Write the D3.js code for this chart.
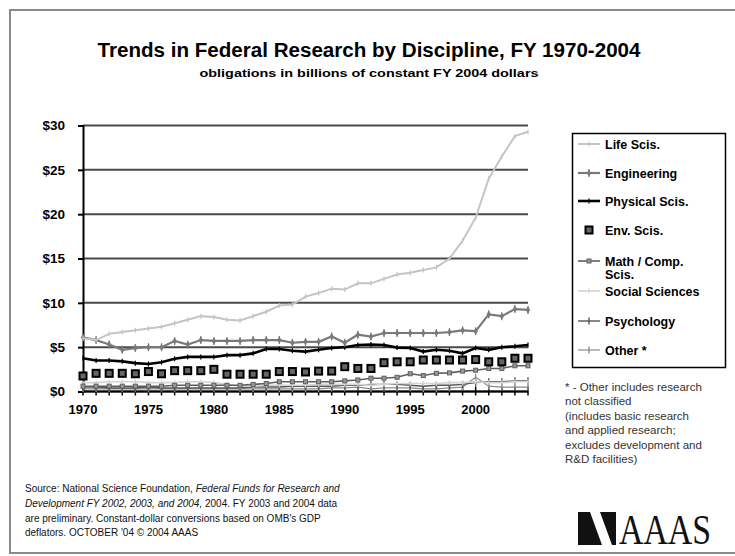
<!DOCTYPE html>
<html><head><meta charset="utf-8">
<script src="https://cdn.jsdelivr.net/npm/d3@7"></script>
<style>body{margin:0;background:#fff}svg{display:block}</style>
</head><body>
<script>
const years = [1970,1971,1972,1973,1974,1975,1976,1977,1978,1979,1980,1981,1982,1983,1984,1985,1986,1987,1988,1989,1990,1991,1992,1993,1994,1995,1996,1997,1998,1999,2000,2001,2002,2003,2004];
const lifeScis   = [6.0,5.8,6.5,6.7,6.9,7.1,7.3,7.7,8.1,8.5, 8.4,8.1,8.0,8.5,9.0,9.7,9.8,10.7,11.1,11.6, 11.5,12.2,12.2,12.7,13.2,13.4,13.7,14.0,15.0,17.0, 19.6,24.0,26.5,28.8,29.3];
const engineering= [6.1,5.8,5.3,4.7,4.9,5.0,5.0,5.7,5.3,5.8, 5.7,5.7,5.7,5.8,5.8,5.8,5.5,5.6,5.6,6.2, 5.5,6.4,6.2,6.6,6.6,6.6,6.6,6.6,6.7,6.9, 6.8,8.7,8.5,9.3,9.2];
const physical   = [3.75,3.5,3.5,3.4,3.2,3.1,3.3,3.7,3.9,3.9, 3.9,4.1,4.1,4.3,4.8,4.8,4.6,4.5,4.7,4.9, 5.0,5.25,5.3,5.25,4.95,4.9,4.5,4.7,4.6,4.3, 4.9,4.7,5.0,5.1,5.25];
const envScis    = [1.75,2.05,2.05,2.05,2.0,2.25,2.0,2.35,2.35,2.35, 2.5,1.95,1.95,1.95,1.95,2.25,2.25,2.2,2.3,2.3, 2.8,2.6,2.6,3.25,3.35,3.35,3.55,3.55,3.55,3.55, 3.6,3.35,3.35,3.75,3.75];
const mathComp   = [0.6,0.6,0.6,0.6,0.6,0.6,0.6,0.7,0.7,0.7, 0.7,0.7,0.7,0.8,0.9,1.1,1.1,1.1,1.1,1.1, 1.2,1.3,1.5,1.5,1.6,2.0,1.8,2.05,2.1,2.3, 2.4,2.6,2.6,2.9,2.9];
const socialSci  = [1.0,1.0,1.1,1.1,1.1,1.0,1.0,1.0,1.1,1.1, 1.0,0.8,0.6,0.6,0.7,0.7,0.7,0.7,0.8,0.8, 0.8,0.8,0.7,0.8,0.9,0.9,0.9,0.9,1.0,1.0, 1.1,1.0,1.0,1.1,1.1];
const psychology = [0.5,0.5,0.4,0.4,0.4,0.5,0.4,0.4,0.4,0.4, 0.4,0.4,0.4,0.5,0.5,0.5,0.6,0.6,0.6,0.6, 0.7,0.7,0.8,0.8,0.8,0.7,0.6,0.7,0.7,0.8, 1.0,1.1,1.1,1.2,1.2];
const other      = [0.3,0.3,0.3,0.3,0.3,0.3,0.3,0.3,0.3,0.3, 0.3,0.3,0.3,0.3,0.3,0.3,0.3,0.3,0.3,0.4, 0.4,0.5,0.3,0.4,0.4,0.4,0.3,0.3,0.4,0.5, 1.6,0.6,0.5,0.5,0.5];
const yTicks = [0,5,10,15,20,25,30];
const xTickLabels = [1970,1975,1980,1985,1990,1995,2000];

const series = [
  {name:"Life Scis.", values:lifeScis, color:"#c4c4c4", width:2, marker:"tick"},
  {name:"Engineering", values:engineering, color:"#7a7a7a", width:2.2, marker:"diamond"},
  {name:"Physical Scis.", values:physical, color:"#000", width:2.6, marker:"tick"},
  {name:"Env. Scis.", values:envScis, color:null, width:0, marker:"square"},
  {name:"Math / Comp.\nScis.", values:mathComp, color:"#5e5e5e", width:1.6, marker:"smallsq"},
  {name:"Social Sciences", values:socialSci, color:"#d4d4d4", width:1.6, marker:"tick"},
  {name:"Psychology", values:psychology, color:"#555", width:1.4, marker:"plus"},
  {name:"Other *", values:other, color:"#8c8c8c", width:1.2, marker:"plus"}
];

const W=735,H=556;
const svg=d3.select("body").append("svg").attr("width",W).attr("height",H)
  .style("font-family","'Liberation Sans', Arial, sans-serif");

// frame
svg.append("path").attr("d","M740,10 H10 V553 H740").attr("fill","none").attr("stroke","#8a8a8a").attr("stroke-width",2);

// titles
svg.append("text").attr("x",369).attr("y",57).attr("text-anchor","middle")
  .attr("font-size",20).attr("font-weight","bold").attr("textLength",543).attr("lengthAdjust","spacingAndGlyphs")
  .text("Trends in Federal Research by Discipline, FY 1970-2004");
svg.append("text").attr("x",369).attr("y",77).attr("text-anchor","middle")
  .attr("font-size",11).attr("font-weight","bold").attr("textLength",339).attr("lengthAdjust","spacingAndGlyphs")
  .text("obligations in billions of constant FY 2004 dollars");

const x=d3.scaleLinear().domain([1970,2004]).range([83,528]);
const y=d3.scaleLinear().domain([0,30]).range([391.5,125.5]);

// gridlines
svg.append("g").selectAll("line").data(yTicks).join("line")
  .attr("x1",x(1970)).attr("x2",x(2004)).attr("y1",d=>y(d)).attr("y2",d=>y(d))
  .attr("stroke","#4a4a4a").attr("stroke-width",2);

// y axis
const yAxis=d3.axisLeft(y).tickValues(yTicks).tickFormat(d=>"$"+d).tickSize(5).tickPadding(13);
const gy=svg.append("g").attr("transform",`translate(${x(1970)},0)`).call(yAxis);
gy.select(".domain").attr("stroke","#000").attr("stroke-width",2);
gy.selectAll(".tick line").attr("stroke","#000").attr("stroke-width",2);
gy.selectAll(".tick text").attr("font-size",13.5).attr("font-weight","bold").attr("fill","#000")
  .attr("font-family","'Liberation Sans', Arial, sans-serif");

// x axis with cross ticks
const gx=svg.append("g").attr("transform",`translate(0,${y(0)})`);
gx.append("line").attr("x1",x(1970)).attr("x2",x(2004)).attr("stroke","#000").attr("stroke-width",2);
gx.selectAll("line.t").data(years).join("line").attr("class","t")
  .attr("x1",d=>x(d)).attr("x2",d=>x(d)).attr("y1",-5).attr("y2",4).attr("stroke","#000").attr("stroke-width",1.5);
gx.selectAll("text").data(xTickLabels).join("text")
  .attr("x",d=>x(d)).attr("y",22).attr("text-anchor","middle").attr("font-size",13).attr("font-weight","bold")
  .text(d=>d);

function drawMarker(g,type,cx,cy,color){
  if(type==="tick"){
    g.append("line").attr("x1",cx).attr("x2",cx).attr("y1",cy-2.5).attr("y2",cy+2.5).attr("stroke",color).attr("stroke-width",1.2);
  } else if(type==="diamond"){
    g.append("path").attr("d",d3.symbol(d3.symbolDiamond,16)(null)).attr("transform",`translate(${cx},${cy})`).attr("fill",color);
    g.append("line").attr("x1",cx).attr("x2",cx).attr("y1",cy-4).attr("y2",cy+4).attr("stroke",color).attr("stroke-width",1.2);
  } else if(type==="square"){
    g.append("rect").attr("x",cx-3.5).attr("y",cy-3.5).attr("width",7).attr("height",7).attr("fill","#666").attr("stroke","#000").attr("stroke-width",2);
  } else if(type==="smallsq"){
    g.append("rect").attr("x",cx-2).attr("y",cy-2).attr("width",4).attr("height",4).attr("fill","#999").attr("stroke",color).attr("stroke-width",1);
  } else if(type==="plus"){
    g.append("line").attr("x1",cx).attr("x2",cx).attr("y1",cy-3.5).attr("y2",cy+3.5).attr("stroke",color).attr("stroke-width",1.4);
  }
}

const line=d3.line().x((d,i)=>x(years[i])).y(d=>y(d));
const order=[7,6,5,4,3,2,1,0];
order.forEach(k=>{
  const s=series[k];
  const g=svg.append("g");
  if(s.color) g.append("path").attr("d",line(s.values)).attr("fill","none").attr("stroke",s.color).attr("stroke-width",s.width);
  s.values.forEach((v,i)=>drawMarker(g,s.marker,x(years[i]),y(v),s.color||"#000"));
});

// legend
const lg=svg.append("g");
lg.append("rect").attr("x",572.5).attr("y",133.5).attr("width",153).attr("height",234).attr("fill","#fff").attr("stroke","#000").attr("stroke-width",1.5);
const legY=[144,173,201,230,261,291,321,350];
series.forEach((s,k)=>{
  const yy=legY[k];
  const g=lg.append("g");
  if(s.color) g.append("line").attr("x1",578).attr("x2",600).attr("y1",yy).attr("y2",yy).attr("stroke",s.color).attr("stroke-width",s.width);
  drawMarker(g,s.marker,589,yy,s.color||"#000");
  const lines=s.name.split("\n");
  const t=g.append("text").attr("x",605).attr("y",yy+4.5).attr("font-size",12.5).attr("font-weight","bold");
  lines.forEach((l,j)=>t.append("tspan").attr("x",605).attr("dy",j?13:0).text(l));
});

// footnote
const foot=["* - Other includes research","not classified","(includes basic research","and applied research;","excludes development and","R&D facilities)"];
svg.append("g").selectAll("text").data(foot).join("text")
  .attr("x",565).attr("y",(d,i)=>391+i*14.4).attr("font-size",11.5).attr("fill","#333").text(d=>d);

// source
const src=svg.append("g").attr("font-size",10).attr("fill","#111");
let t1=src.append("text").attr("x",25).attr("y",492);
t1.append("tspan").text("Source: National Science Foundation, ");
t1.append("tspan").attr("font-style","italic").text("Federal Funds for Research and");
let t2=src.append("text").attr("x",25).attr("y",507);
t2.append("tspan").attr("font-style","italic").text("Development FY 2002, 2003, and 2004,");
t2.append("tspan").text("  2004.  FY 2003 and 2004 data");
src.append("text").attr("x",25).attr("y",522).text("are preliminary. Constant-dollar conversions based on OMB's GDP");
src.append("text").attr("x",25).attr("y",536).text("deflators.    OCTOBER '04 \u00A9 2004 AAAS");

// AAAS logo
const logo=svg.append("g");
logo.append("rect").attr("x",578).attr("y",512).attr("width",38).attr("height",33).attr("fill","#111");
logo.append("path").attr("d","M590,512 L600,512 L612,545 L602,545 Z").attr("fill","#fff");
logo.append("text").attr("x",619).attr("y",544).attr("font-family","'Liberation Serif','DejaVu Serif',serif")
  .attr("font-size",42).attr("textLength",92).attr("lengthAdjust","spacingAndGlyphs").attr("fill","#111").text("AAAS");
</script>
</body></html>
